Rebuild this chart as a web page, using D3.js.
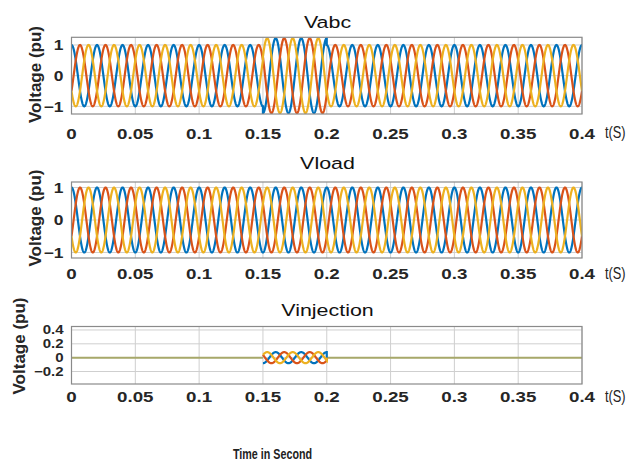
<!DOCTYPE html>
<html><head><meta charset="utf-8">
<script src="https://cdn.jsdelivr.net/npm/d3@7"></script>
<style>body{margin:0;background:#fff}svg{display:block}</style>
</head><body>
<script>
// ---- data ----
const timeTicks = [0, 0.05, 0.1, 0.15, 0.2, 0.25, 0.3, 0.35, 0.4];
const segmentStarts = [0, 0.15, 0.2];      // disturbance window 0.15–0.2 s
const segmentEnds   = [0.15, 0.2, 0.4];
const vabcAmplitude  = [1.0, 1.22, 1.0];
const vloadAmplitude = [1.0, 1.0, 1.0];
const vinjAmplitude  = [0.0, 0.08, 0.0];
const phaseNames = ["a", "b", "c"];
const phaseShiftDeg = [0, -120, 120];
const frequencyHz = 50;
const vabcTicks = [-1, 0, 1];
const vloadTicks = [-1, 0, 1];
const vinjTicks = [-0.2, 0, 0.2, 0.4];
const titles = ["Vabc", "Vload", "Vinjection"];

// ---- styles / layout ----
const colors = ["#0072BD", "#D95319", "#EDB120"];
const W = 627, H = 463;
const svg = d3.select("body").append("svg").attr("width", W).attr("height", H);
const x = d3.scaleLinear().domain([0, 0.4]).range([71.5, 582]);
const FONT = "Liberation Sans, Arial, sans-serif";

function buildWave(amps, phaseDeg) {
  const pts = [];
  const dt = 0.0001;
  for (let s = 0; s < segmentStarts.length; s++) {
    for (let t = segmentStarts[s]; t <= segmentEnds[s] + 1e-9; t += dt) {
      pts.push([t, amps[s] * Math.cos(2 * Math.PI * frequencyHz * t + phaseDeg * Math.PI / 180)]);
    }
  }
  return pts;
}

const panels = [
  {amps: vabcAmplitude, ticks: vabcTicks, dom: [-1.25, 1.25], top: 37.3, bot: 114, titleY: 27.5, tickY: 138.5, ylabY: 74.5, ylabX: 35, tS: 138, yfs: 14.5, ysx: 1.2, fmt: d3.format("d")},
  {amps: vloadAmplitude, ticks: vloadTicks, dom: [-1.17, 1.17], top: 182, bot: 258, titleY: 169, tickY: 278.5, ylabY: 218, ylabX: 35, tS: 279, yfs: 14.5, ysx: 1.2, fmt: d3.format("d")},
  {amps: vinjAmplitude, ticks: vinjTicks, dom: [-0.38, 0.45], top: 326.5, bot: 384, titleY: 315.5, tickY: 401.5, ylabY: 346, ylabX: 18.5, tS: 402, yfs: 12.5, ysx: 1.2, fmt: v => v === 0 ? "0" : d3.format(".1f")(v)}
];

panels.forEach((p, i) => {
  const y = d3.scaleLinear().domain(p.dom).range([p.bot, p.top]);
  const g = svg.append("g");
  const clipId = "clip" + i;
  svg.append("clipPath").attr("id", clipId).append("rect")
    .attr("x", x(0)).attr("y", p.top).attr("width", x(0.4) - x(0)).attr("height", p.bot - p.top);
  // grid
  g.append("g").selectAll("line").data(timeTicks).join("line")
    .attr("x1", d => x(d)).attr("x2", d => x(d)).attr("y1", p.top).attr("y2", p.bot)
    .attr("stroke", "#cfcfcf").attr("stroke-width", 1);
  g.append("g").selectAll("line").data(p.ticks).join("line")
    .attr("x1", x(0)).attr("x2", x(0.4)).attr("y1", d => y(d)).attr("y2", d => y(d))
    .attr("stroke", "#cfcfcf").attr("stroke-width", 1);
  // lines
  const line = d3.line().x(d => x(d[0])).y(d => y(d[1]));
  const lg = g.append("g").attr("clip-path", `url(#${clipId})`);
  if (i === 2) {
    [[0, 0.15], [0.2, 0.4]].forEach(r => {
      lg.append("path").attr("d", line([[r[0], 0], [r[1], 0]]))
        .attr("fill", "none").attr("stroke", "#a7a86a").attr("stroke-width", 2);
    });
    phaseNames.forEach((n, k) => {
      const pts = buildWave(p.amps, phaseShiftDeg[k]).filter(d => d[0] >= segmentStarts[1] && d[0] <= segmentEnds[1]);
      lg.append("path").attr("d", line(pts)).attr("fill", "none")
        .attr("stroke", colors[k]).attr("stroke-width", 2.2);
    });
  } else {
    phaseNames.forEach((n, k) => {
      lg.append("path").attr("d", line(buildWave(p.amps, phaseShiftDeg[k]))).attr("fill", "none")
        .attr("stroke", colors[k]).attr("stroke-width", 2.2);
    });
  }
  // box
  g.append("rect").attr("x", x(0)).attr("y", p.top).attr("width", x(0.4) - x(0)).attr("height", p.bot - p.top)
    .attr("fill", "none").attr("stroke", "#8a8a8a").attr("stroke-width", 1.2);
  // x tick labels
  g.append("g").selectAll("text").data(timeTicks).join("text")
    .attr("transform", d => `translate(${x(d)},${p.tickY}) scale(1.25,1)`)
    .attr("text-anchor", "middle").attr("font-family", FONT)
    .attr("font-weight", "bold").attr("font-size", 15).attr("fill", "#262626")
    .text(d => d === 0 ? "0" : String(d));
  // y tick labels
  g.append("g").selectAll("text").data(p.ticks).join("text")
    .attr("transform", d => `translate(63.5,${y(d)}) scale(${p.ysx},1)`)
    .attr("text-anchor", "end").attr("dy", "0.36em").attr("font-family", FONT)
    .attr("font-weight", "bold").attr("font-size", p.yfs).attr("fill", "#262626")
    .text(d => p.fmt(d));
  // title
  g.append("text").attr("transform", `translate(327.5,${p.titleY}) scale(1.26,1)`)
    .attr("text-anchor", "middle").attr("font-family", FONT)
    .attr("font-size", 17).attr("fill", "#111").text(titles[i]);
  // y label
  g.append("text").attr("transform", `translate(${p.ylabX + 6},${p.ylabY}) rotate(-90)`)
    .attr("text-anchor", "middle").attr("font-family", FONT)
    .attr("font-weight", "bold").attr("font-size", 17).attr("fill", "#262626").text("Voltage (pu)");
  // t(S)
  g.append("text").attr("transform", `translate(605,${p.tS}) scale(0.8,1)`)
    .attr("font-family", FONT).attr("font-size", 16).attr("fill", "#222").text("t(S)");
});

svg.append("text").attr("transform", "translate(272.5,459) scale(0.74,1)")
  .attr("text-anchor", "middle").attr("font-family", FONT)
  .attr("font-weight", "bold").attr("font-size", 14.5).attr("fill", "#222").text("Time in Second");
</script>
</body></html>
